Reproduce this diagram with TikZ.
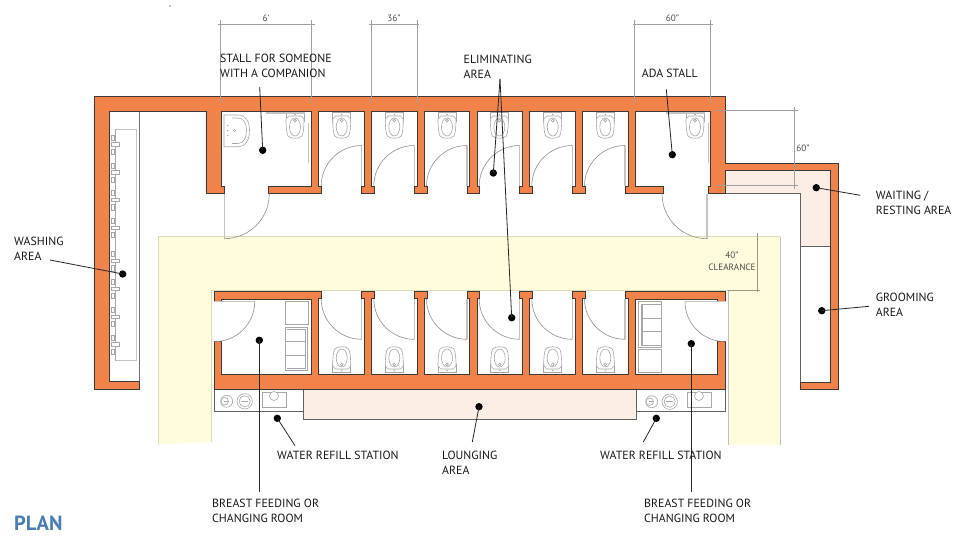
\documentclass[tikz,border=0pt]{standalone}
\usepackage{fontspec}
\setmainfont{PT Sans}
\definecolor{wallc}{HTML}{F0824A}
\definecolor{walll}{HTML}{3C3A38}
\definecolor{yell}{HTML}{FFFBDD}
\definecolor{yelll}{HTML}{DEDCB4}
\definecolor{peach}{HTML}{FDEEE5}
\definecolor{fixt}{HTML}{A8A8A8}
\definecolor{leaf}{HTML}{C4C4C4}
\definecolor{dimc}{HTML}{A0A0A0}
\definecolor{plan}{HTML}{4A7DB3}
\tikzset{
  x=1pt,y=-1pt,
  wallp/.style={fill=wallc,draw=walll,line width=0.7pt,line join=miter},
  fixture/.style={draw=fixt,line width=0.6pt,fill=white},
  fixline/.style={draw=fixt,line width=0.6pt},
  doorleaf/.style={draw=leaf,line width=1.3pt},
  doorarc/.style={draw=fixt!85!black,line width=0.6pt},
  bar/.style={fill=leaf,draw=none},
  room/.style={draw=black!62,line width=0.8pt},
  dimline/.style={draw=dimc,line width=0.7pt},
  dimtext/.style={inner sep=0pt,font=\fontsize{9.2}{10}\selectfont,text=black!70},
  lab/.style={inner sep=0pt,anchor=west,font=\fontsize{11.85}{14}\selectfont,text=black!90},
  spot/.style={circle,fill=black,draw=none,inner sep=0pt,minimum size=7.4pt},
  leader/.style={draw=black!85,line width=0.8pt}
}
\newcommand{\toilet}{%
  \draw[fixture] (-9,1.5) -- (9,1.5) -- (9,10) -- (-9,10) -- cycle;
  \draw[fixture] (-9,8) .. controls (-9,16) and (-8.5,22) .. (-7,25) .. controls (-5,28) and (5,28) .. (7,25) .. controls (8.5,22) and (9,16) .. (9,8) -- (6,5) -- (-6,5) -- cycle;
  \draw[fixline] (0,16) ellipse [x radius=5.5pt,y radius=9pt];
  \draw[fixline] (0,9.5) circle [radius=1.4pt];
  \fill[fixt] (0,3.5) circle [radius=0.8pt];
}
\newcommand{\swing}[1]{%
  \draw[doorleaf] (0,-#1) -- (0,0);
  \draw[doorarc] (0,-#1) .. controls ({-0.5523*#1},-#1) and (-#1,{-0.5523*#1}) .. (-#1,0);
}
\newcommand{\faucet}[1]{%
  \draw[fixture] (111.5,#1-9.5) rectangle (114,#1-4.5);
  \draw[fixture] (111.5,#1+4.5) rectangle (114,#1+10);
  \draw[fixture] (111,#1-1.7) rectangle (119.5,#1+1.7);
}
\newcommand{\fountain}[2]{%
  \draw[fixture] (#1,#2) circle [radius=6pt];
  \draw[fixline] (#1-2,#2) circle [radius=3.8pt];
  \draw[fixline] (#1-3,#2) -- (#1+2,#2);
  \draw[fixture] (#1+18,#2) circle [radius=7.7pt];
  \draw[fixline] (#1+18,#2) circle [radius=5.6pt];
  \draw[fixline] (#1+14,#2) -- (#1+21,#2);
}
\begin{document}
\begin{tikzpicture}
\useasboundingbox (0,0) rectangle (960,552);
\fill[white] (0,0) rectangle (960,552);
% clearance band
\path[fill=yell] (158.7,236.7) -- (780,236.7) -- (780,445) -- (728,445) -- (728,290) -- (211.7,290) -- (211.7,442) -- (158.7,444.5) -- cycle;
\draw[yelll,line width=0.8pt] (158.7,444.5) -- (158.7,236.7) -- (780,236.7);
\draw[yelll,line width=0.8pt] (211.7,442) -- (211.7,290) -- (728,290);
\draw[black!25,line width=0.8pt] (780,236.7) -- (780,445);
\draw[black!25,line width=0.8pt] (728,290) -- (728,445);
% waiting and lounging
\path[fill=peach] (725.7,170.7) -- (830.7,170.7) -- (830.7,246.3) -- (800.7,246.3) -- (800.7,193.3) -- (725.7,193.3) -- cycle;
\path[fill=peach] (303.3,389) rectangle (636,419.3);
\draw[room] (725.7,193.3) -- (800.7,193.3) -- (800.7,382);
\draw[room] (800.7,246.3) -- (830.7,246.3);
\draw[room] (303.3,389) -- (303.3,419.3) -- (636,419.3) -- (636,389);
\draw[room,fill=white] (214,389) rectangle (303.3,411.7);
\draw[room,fill=white] (636,389) rectangle (725.7,411.7);
% washing counter
\draw[leaf,line width=1pt] (115,129.3) -- (136.7,129.3) -- (136.7,360.7) -- (115,360.7);
\draw[fixline] (115,129.3) -- (115,360.7);
\draw[black!55,line width=1pt] (139,111) -- (139,382);
\foreach \y in {144.3,172.3,200,227.7,261,288.7,316.7,344.3}{\faucet{\y}}
% upper walls
\path[wallp] (94,96) -- (725.7,96) -- (725.7,163.3) -- (838,163.3) -- (838,389.3) -- (800.7,389.3) -- (800.7,382) -- (830.7,382) -- (830.7,170.7) -- (725.7,170.7) -- (725.7,193.5) -- (708,193.5) -- (708,186) -- (710.7,186) -- (710.7,111)
 -- (635.3,111) -- (635.3,186) -- (663.3,186) -- (663.3,193.5) -- (625,193.5) -- (625,186) -- (628,186) -- (628,111)
 -- (582.3,111) -- (582.3,186) -- (585,186) -- (585,193.5) -- (572.3,193.5) -- (572.3,186) -- (575,186) -- (575,111)
 -- (529.7,111) -- (529.7,186) -- (532.3,186) -- (532.3,193.5) -- (519.7,193.5) -- (519.7,186) -- (522.3,186) -- (522.3,111)
 -- (477.3,111) -- (477.3,186) -- (479.7,186) -- (479.7,193.5) -- (467,193.5) -- (467,186) -- (469.7,186) -- (469.7,111)
 -- (424.3,111) -- (424.3,186) -- (427,186) -- (427,193.5) -- (414.3,193.5) -- (414.3,186) -- (417.3,186) -- (417.3,111)
 -- (371.7,111) -- (371.7,186) -- (374.3,186) -- (374.3,193.5) -- (361.7,193.5) -- (361.7,186) -- (364.3,186) -- (364.3,111)
 -- (318.7,111) -- (318.7,186) -- (321.7,186) -- (321.7,193.5) -- (268.7,193.5) -- (268.7,186) -- (311.7,186) -- (311.7,111)
 -- (221.3,111) -- (221.3,186) -- (224,186) -- (224,193.5) -- (206.3,193.5) -- (206.3,111)
 -- (109,111) -- (109,381.7) -- (139,381.7) -- (139,389.3) -- (94,389.3) -- cycle;
% lower walls
\path[wallp] (214,291.3) -- (321.7,291.3) -- (321.7,298.8) -- (318.7,298.8) -- (318.7,374) -- (364.3,374) -- (364.3,298.8) -- (361.7,298.8) -- (361.7,291.3)
 -- (374.3,291.3) -- (374.3,298.8) -- (371.7,298.8) -- (371.7,374) -- (417.3,374) -- (417.3,298.8) -- (414.3,298.8) -- (414.3,291.3)
 -- (427,291.3) -- (427,298.8) -- (424.3,298.8) -- (424.3,374) -- (469.7,374) -- (469.7,298.8) -- (467,298.8) -- (467,291.3)
 -- (479.7,291.3) -- (479.7,298.8) -- (477.3,298.8) -- (477.3,374) -- (522.3,374) -- (522.3,298.8) -- (519.7,298.8) -- (519.7,291.3)
 -- (532.3,291.3) -- (532.3,298.8) -- (529.7,298.8) -- (529.7,374) -- (575,374) -- (575,298.8) -- (572.3,298.8) -- (572.3,291.3)
 -- (585,291.3) -- (585,298.8) -- (582.3,298.8) -- (582.3,374) -- (628,374) -- (628,298.8) -- (625,298.8) -- (625,291.3)
 -- (725.7,291.3) -- (725.7,301.7) -- (717.7,301.7) -- (717.7,299) -- (635.3,299) -- (635.3,374) -- (717.7,374) -- (717.7,341.7) -- (725.7,341.7) -- (725.7,389.3)
 -- (214,389.3) -- (214,341.7) -- (221.3,341.7) -- (221.3,374) -- (311.7,374) -- (311.7,299) -- (221.3,299) -- (221.3,301.7) -- (214,301.7) -- cycle;
% toilets
\foreach \x in {295,341.7,394.3,447,499.3,552.7,605.3,695}{
  \begin{scope}[shift={(\x,111)}]\toilet\end{scope}}
\foreach \x in {341.7,394.3,447,499.7,552.7,605.3}{
  \begin{scope}[shift={(\x,374)},yscale=-1]\toilet\end{scope}}
% grab bars
\fill[bar] (265.7,111.8) rectangle (305,114);
\fill[bar] (307.5,123) rectangle (309.3,162.7);
\fill[bar] (665.7,111.8) rectangle (705,114);
\fill[bar] (707.5,123) rectangle (709.3,162.7);
% companion sink
\draw[fixture] (224,115) -- (238,115) .. controls (246,115) and (249.5,122) .. (249.5,130) .. controls (249.5,140) and (246,146.7) .. (238,146.7) -- (224,146.7) -- cycle;
\draw[fixline] (232,118) -- (238,118) .. controls (244,118) and (246.5,124) .. (246.5,130) .. controls (246.5,137) and (244,143.5) .. (238,143.5) -- (232,143.5);
\draw[fixline] (234.5,130.5) circle [radius=1.2pt];
\foreach \y in {125.5,130.5,135.5}{\fill[fixt] (227.7,\y) circle [radius=0.8pt];}
% doors
\foreach \x in {361.7,414.3,467,519.7,572.3,625}{
  \begin{scope}[shift={(\x,186)}]\swing{40.5}\end{scope}
  \begin{scope}[shift={(\x,298.8)},yscale=-1]\swing{40.5}\end{scope}}
\begin{scope}[shift={(224.3,193.7)},xscale=-1,yscale=-1]\swing{45}\end{scope}
\begin{scope}[shift={(707,193.7)},yscale=-1]\swing{45}\end{scope}
\draw[doorleaf] (214,301.7) -- (254.7,301.7);
\draw[doorarc] (254.7,301.7) .. controls (254.7,324) and (236.5,341.7) .. (214,341.7);
\draw[doorleaf] (725.7,301.7) -- (685,301.7);
\draw[doorarc] (685,301.7) .. controls (685,324) and (703.2,341.7) .. (725.7,341.7);
% seating
\draw[fixture] (285.3,301.7) rectangle (308.3,324.3);
\draw[fixture] (285.3,327.3) rectangle (307.7,370.3);
\draw[fixline] (286.5,329.3) -- (305,329.3) -- (305,368.5) -- (286.5,368.5);
\draw[fixline] (285.3,341.7) -- (305,341.7) (285.3,355.7) -- (305,355.7);
\draw[fixture] (638.3,301.3) rectangle (661.7,347.7);
\draw[fixline] (640.8,345.3) -- (640.8,304.7) -- (661.7,304.7) (640.8,345.3) -- (661.7,345.3);
\draw[fixline] (642.5,304.7) -- (642.5,345.3) (642.5,318) -- (661.7,318) (642.5,331.7) -- (661.7,331.7);
\draw[fixture] (638.3,349.3) rectangle (661.7,372.7);
% fountains and refill units
\fountain{226.7}{401.3}
\fountain{651.7}{401.7}
\draw[fixture] (262.3,392) rectangle (286.7,407.7);
\draw[fixture] (274,396) circle [radius=4.5pt];
\draw[fixture] (687.3,392) rectangle (711,407.7);
\draw[fixture] (699,396) circle [radius=4.5pt];
% dimensions
\draw[dimline] (217.7,24.3) -- (315,24.3) (220.3,20) -- (220.3,102.7) (311.3,20) -- (311.3,102.7);
\draw[dimline] (368.7,24.3) -- (419.3,24.3) (371.7,20) -- (371.7,102.7) (417.3,20) -- (417.3,102.7);
\draw[dimline] (632.7,24.3) -- (713.3,24.3) (634.7,20) -- (634.7,102.7) (710.7,20) -- (710.7,102.7);
\draw[dimline] (716,110.3) -- (798,110.3) (716,185.7) -- (798,185.7) (794,106.7) -- (794,189.3);
\draw[draw=yelll!70!black,line width=0.6pt] (757.3,233.3) -- (757.3,291.7) (728,290) -- (760,290);
\node[dimtext] (dsix) at (266,18) {6'};
\node[dimtext] (dthree) at (394,18.5) {36"};
\node[dimtext] (dsixty) at (672.5,18.5) {60"};
\node[dimtext] (dside) at (803,148.5) {60"};
\node[dimtext] (dforty) at (732,255.5) {40"};
\node[dimtext] (dclear) at (732,267) {CLEARANCE};
\fill[black] (170,6) circle [radius=0.7pt];
% labels
\node[lab] (lstalla) at (220,58) {STALL FOR SOMEONE};
\node[lab] (lstallb) at (220,73) {WITH A COMPANION};
\node[lab] (lelima) at (463.5,59) {ELIMINATING};
\node[lab] (lelimb) at (463.5,74) {AREA};
\node[lab] (lada) at (641.7,73.5) {ADA STALL};
\node[lab] (lwaita) at (875.7,195.7) {WAITING /};
\node[lab] (lwaitb) at (875.7,210.7) {RESTING AREA};
\node[lab] (lgrooma) at (875.7,297.3) {GROOMING};
\node[lab] (lgroomb) at (875.7,312.3) {AREA};
\node[lab] (lwasha) at (14,241) {WASHING};
\node[lab] (lwashb) at (14,256) {AREA};
\node[lab] (lrefa) at (277,455) {WATER REFILL STATION};
\node[lab] (lrefb) at (600,455) {WATER REFILL STATION};
\node[lab] (lloua) at (442,455.5) {LOUNGING};
\node[lab] (lloub) at (442,470.5) {AREA};
\node[lab] (lbfa) at (212,503.5) {BREAST FEEDING OR};
\node[lab] (lbfb) at (212,518.5) {CHANGING ROOM};
\node[lab] (lbga) at (644,503.5) {BREAST FEEDING OR};
\node[lab] (lbgb) at (644,518.5) {CHANGING ROOM};
\node[inner sep=0pt,anchor=west,font=\bfseries\fontsize{20.5}{22}\selectfont,text=plan] (lplan) at (14,523) {PLAN};
% spots
\node[spot] (scomp) at (262.7,150.3) {};
\node[spot] (selima) at (493.3,173) {};
\node[spot] (selimb) at (511.7,317.7) {};
\node[spot] (sada) at (672.3,154.7) {};
\node[spot] (swait) at (816.3,187.7) {};
\node[spot] (sgroom) at (821.7,310.7) {};
\node[spot] (swash) at (122.7,274) {};
\node[spot] (srefa) at (277.3,418.3) {};
\node[spot] (srefb) at (656.3,418.3) {};
\node[spot] (slou) at (479,406.7) {};
\node[spot] (sbfa) at (259.3,340.3) {};
\node[spot] (sbfb) at (691.3,343.7) {};
% leader ends
\coordinate (ecomp) at (259.7,87);
\coordinate (eelim) at (500,79);
\coordinate (eada) at (666.3,89.3);
\coordinate (ewait) at (860.3,195.3);
\coordinate (egroom) at (869,306.3);
\coordinate (ewash) at (50,260);
\coordinate (erefa) at (295,445.7);
\coordinate (erefb) at (643.3,442);
\coordinate (elou) at (472.3,442);
\coordinate (ebfa) at (259.3,492);
\coordinate (ebfb) at (691.3,492);
\draw[leader] (ecomp) -- (scomp.center);
\draw[leader] (eelim) -- (selima.center);
\draw[leader] (eelim) -- (selimb.center);
\draw[leader] (eada) -- (sada.center);
\draw[leader] (ewait) -- (swait.center);
\draw[leader] (egroom) -- (sgroom.center);
\draw[leader] (ewash) -- (swash.center);
\draw[leader] (erefa) -- (srefa.center);
\draw[leader] (erefb) -- (srefb.center);
\draw[leader] (elou) -- (slou.center);
\draw[leader] (ebfa) -- (sbfa.center);
\draw[leader] (ebfb) -- (sbfb.center);
\end{tikzpicture}
\end{document}
